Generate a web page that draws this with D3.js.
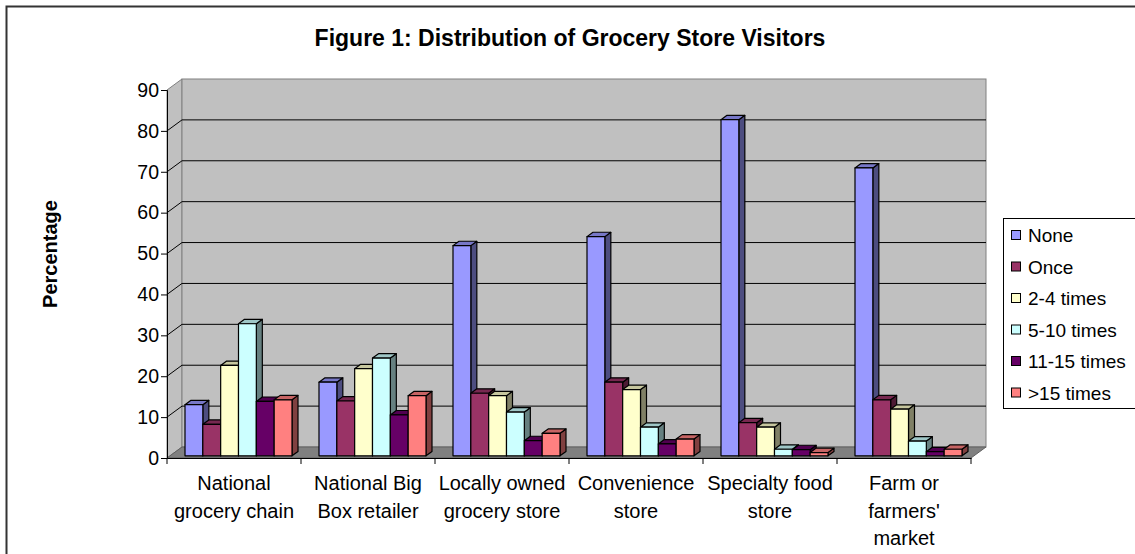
<!DOCTYPE html>
<html><head><meta charset="utf-8">
<script src="https://cdn.jsdelivr.net/npm/d3@7"></script>
<style>body{margin:0;background:#fff}svg{display:block}text{font-family:"Liberation Sans",Arial,sans-serif}</style>
</head><body><svg id="c" width="1135" height="554"></svg>
<script>
const categories = [["National","grocery chain"],["National Big","Box retailer"],["Locally owned","grocery store"],["Convenience","store"],["Specialty food","store"],["Farm or","farmers'","market"]];
const series = ["None","Once","2-4 times","5-10 times","11-15 times",">15 times"];
const colors = ["#9999FF","#993366","#FFFFCC","#CCFFFF","#660066","#FF8080"];
const vNone   = [12.5, 18.0, 51.4, 53.6, 82.2, 70.4];
const vOnce   = [7.7, 13.4, 15.3, 18.0, 8.1, 13.7];
const v2to4   = [22.1, 21.3, 14.7, 16.2, 7.0, 11.4];
const v5to10  = [32.3, 23.9, 10.7, 7.0, 1.6, 3.6];
const v11to15 = [13.3, 10.0, 3.7, 2.9, 1.5, 1.0];
const vOver15 = [13.7, 14.7, 5.5, 4.1, 0.8, 1.6];
const yTicks = [0,10,20,30,40,50,60,70,80,90];
const values = [vNone,vOnce,v2to4,v5to10,v11to15,vOver15];

const svg = d3.select("#c");
const catKeys = d3.range(categories.length);
const x0 = d3.scaleBand(catKeys, [167, 971]);
const x1 = d3.scaleBand(series, [15, x0.bandwidth()-12]);
const y = d3.scaleLinear([0, 90], [458, 90]);
const DX = 15, DY = -11; // full depth offset
const off = t => [DX*t, DY*t];

// border
svg.append("path").attr("d","M6.5,560V6.5H1140").attr("fill","none").attr("stroke","#333").attr("stroke-width",2);

// title
svg.append("text").attr("x",570).attr("y",46).attr("text-anchor","middle")
  .attr("font-weight","bold").attr("font-size",23).text("Figure 1: Distribution of Grocery Store Visitors");

// walls
const [bx, by] = off(1);
const x0L = x0.range()[0], x0R = x0.range()[1];
svg.append("polygon").attr("points",[[x0L,y(0)],[x0L+bx,y(0)+by],[x0L+bx,y(90)+by],[x0L,y(90)]].join(" "))
  .attr("fill","#C0C0C0").attr("stroke","#808080");
svg.append("rect").attr("x",x0L+bx).attr("y",y(90)+by).attr("width",x0R-x0L).attr("height",y(0)-y(90))
  .attr("fill","#C0C0C0").attr("stroke","#808080");
svg.append("polygon").attr("points",[[x0L,y(0)],[x0R,y(0)],[x0R+bx,y(0)+by],[x0L+bx,y(0)+by]].join(" "))
  .attr("fill","#808080").attr("stroke","#606060");
// gridlines
yTicks.filter(d=>d>0 && d<90).forEach(d=>{
  svg.append("path").attr("d",`M${x0L},${y(d)}L${x0L+bx},${y(d)+by}H${x0R+bx}`)
    .attr("fill","none").attr("stroke","#000").attr("stroke-width",1);
});

// bars
function shade(c,k){const o=d3.rgb(c);return d3.rgb(o.r*k,o.g*k,o.b*k).toString();}
const tF = 0.2, tB = 0.6;
const [fx, fy] = off(tF), [kx, ky] = off(tB);
catKeys.forEach(ci=>{
  series.forEach((s,si)=>{
    const v = values[si][ci];
    const xl = x0(ci)+x1(s), xr = xl + x1.bandwidth();
    const yt = y(v), yb = y(0);
    const g = svg.append("g").attr("stroke","#000").attr("stroke-width",1.2).attr("stroke-linejoin","round");
    g.append("polygon").attr("points",[[xr+fx,yb+fy],[xr+kx,yb+ky],[xr+kx,yt+ky],[xr+fx,yt+fy]].join(" "))
      .attr("fill",shade(colors[si],0.5));
    g.append("polygon").attr("points",[[xl+fx,yt+fy],[xr+fx,yt+fy],[xr+kx,yt+ky],[xl+kx,yt+ky]].join(" "))
      .attr("fill",shade(colors[si],0.78));
    g.append("rect").attr("x",xl+fx).attr("y",yt+fy).attr("width",x1.bandwidth()).attr("height",yb-yt)
      .attr("fill",colors[si]);
  });
});

// axes
const ya = d3.axisLeft(y).tickValues(yTicks).tickSize(6).tickPadding(2);
const gy = svg.append("g").attr("transform",`translate(${x0L},0)`).call(ya);
gy.select(".domain").attr("stroke","#000");
gy.selectAll("text").attr("font-size",19.5).attr("fill","#000").style("font-family","Liberation Sans, Arial");
const xa = d3.axisBottom(x0).tickSize(0).tickFormat("");
const gx = svg.append("g").attr("transform",`translate(0,${y(0)})`).call(xa);
gx.select(".domain").attr("stroke","#000");
[x0L, ...catKeys.map(c=>x0(c)+x0.bandwidth())].forEach(xx=>{
  gx.append("line").attr("x1",xx).attr("x2",xx).attr("y1",0).attr("y2",6).attr("stroke","#000");
});
// category labels
catKeys.forEach(ci=>{
  const t = svg.append("text").attr("text-anchor","middle").attr("font-size",20).attr("fill","#000");
  categories[ci].forEach((ln,li)=>{
    t.append("tspan").attr("x",x0(ci)+x0.bandwidth()/2).attr("y",490+li*27.5).text(ln);
  });
});

// y title
svg.append("text").attr("transform","translate(57,254) rotate(-90)").attr("text-anchor","middle")
  .attr("font-weight","bold").attr("font-size",20).text("Percentage");

// legend
svg.append("rect").attr("x",1003.5).attr("y",218.5).attr("width",140).attr("height",190)
  .attr("fill","#fff").attr("stroke","#000");
series.forEach((s,i)=>{
  const cy = 235 + i*31.5;
  svg.append("rect").attr("x",1011.5).attr("y",cy-4.5).attr("width",9).attr("height",9)
    .attr("fill",colors[i]).attr("stroke","#000");
  svg.append("text").attr("x",1028).attr("y",cy+7).attr("font-size",19).text(s);
});
</script></body></html>
